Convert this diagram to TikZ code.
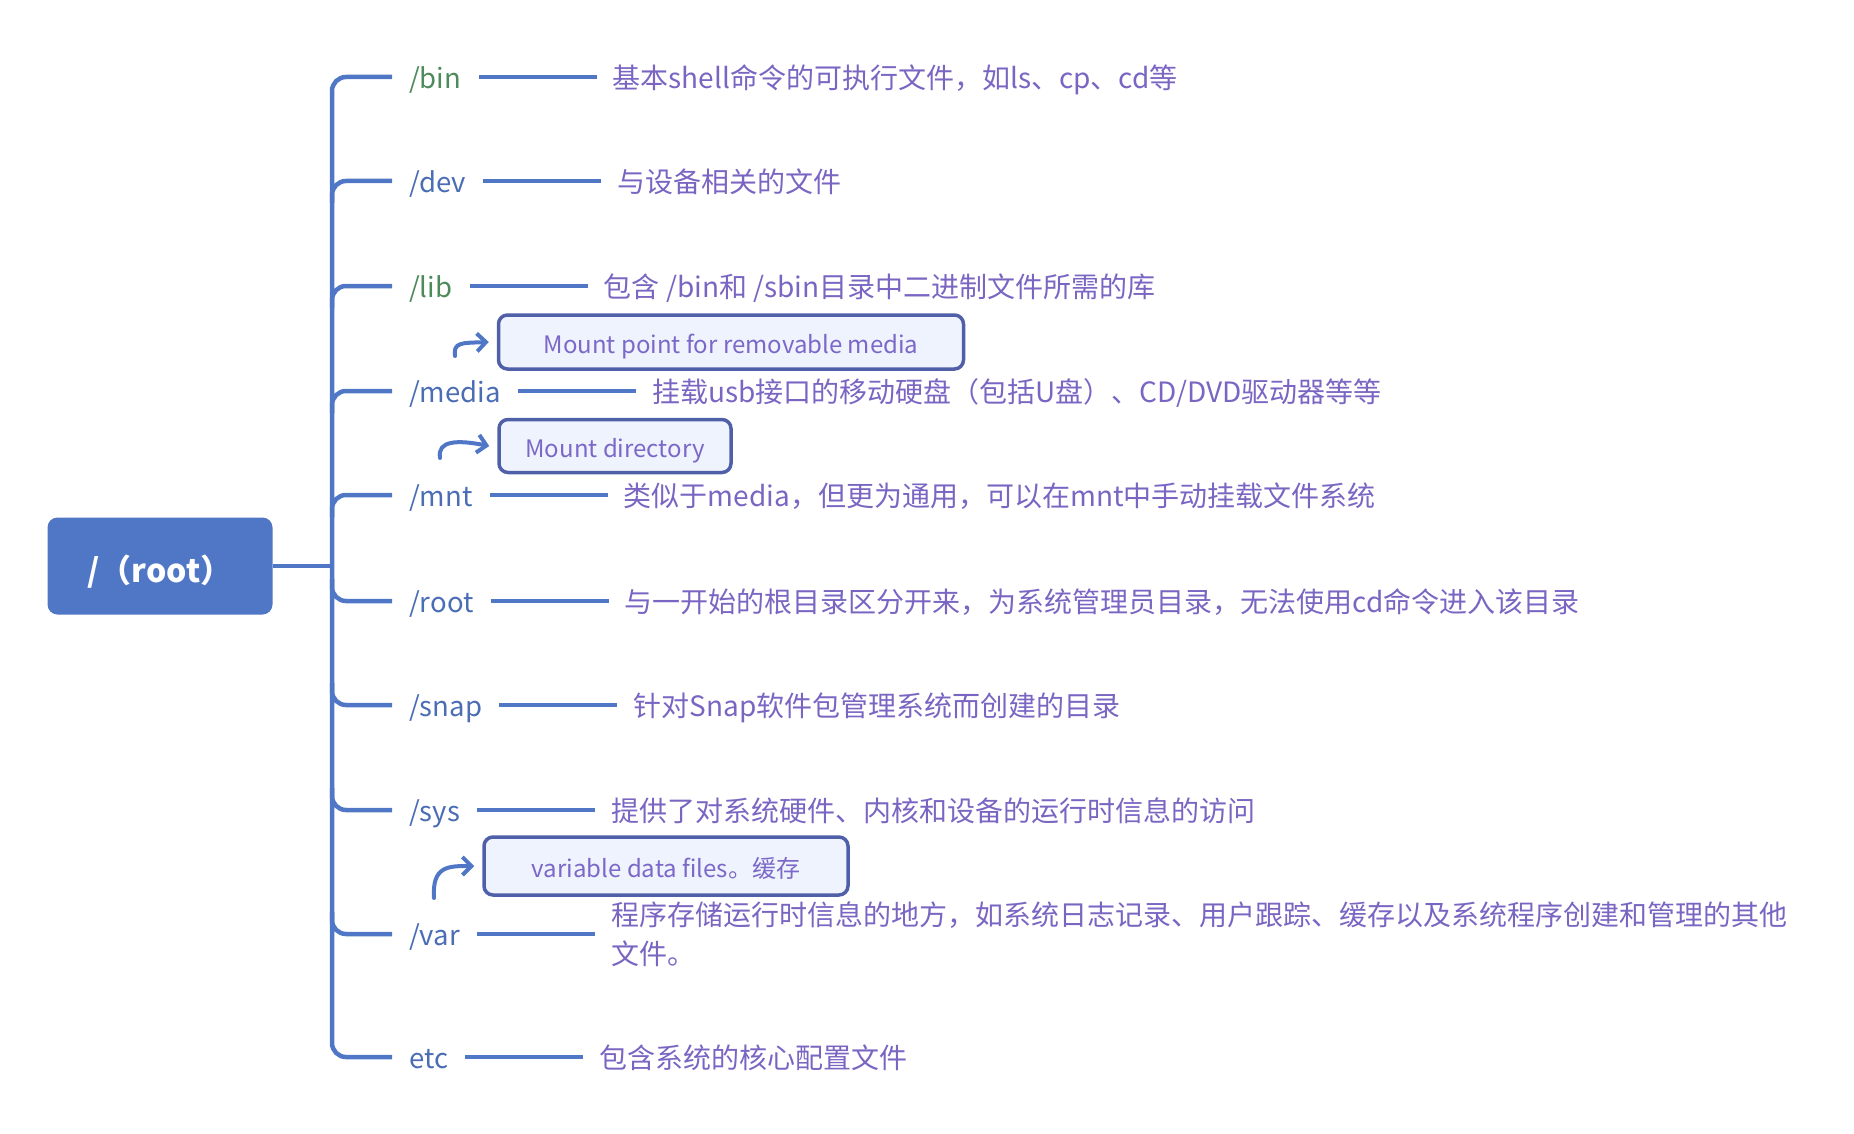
\documentclass[tikz,border=0pt]{standalone}
\usepackage{fontspec}
\setmainfont{Noto Sans CJK SC}
\usetikzlibrary{arrows.meta,positioning}
\definecolor{lineblue}{HTML}{5077C5}
\definecolor{labelblue}{HTML}{4A6DB5}
\definecolor{labelgreen}{HTML}{4E8A5C}
\definecolor{descpurple}{HTML}{7A66C2}
\definecolor{boxborder}{HTML}{5060A8}
\definecolor{boxfill}{HTML}{EEF3FD}
\definecolor{boxtext}{HTML}{7B68C8}
\begin{document}
\begin{tikzpicture}[x=1pt,y=-1pt,
  branch/.style={draw=lineblue,line width=4.5pt,rounded corners=14pt},
  conn/.style={draw=lineblue,line width=4.5pt},
  lbl/.style={anchor=west,inner xsep=17pt,inner ysep=4pt,text height=23pt,text depth=0pt,font=\fontsize{27.5}{34}\selectfont,text=labelblue},
  lblg/.style={lbl,text=labelgreen},
  desc/.style={inner xsep=16pt,inner ysep=2pt,font=\fontsize{28}{39}\selectfont,text=descpurple,align=left},
  desc1/.style={desc,text height=23pt,text depth=0pt},
  mbox/.style={draw=boxborder,fill=boxfill,line width=3.5pt,rounded corners=9pt,text=boxtext,font=\fontsize{24}{30}\selectfont,inner sep=0pt,text height=23pt,text depth=0pt},
  arr/.style={draw=lineblue,line width=4pt,line cap=round,-{Straight Barb[length=9pt,width=18pt,line width=4pt]}},
  rootbox/.style={fill=lineblue,rounded corners=10pt,text=white,font=\fontsize{32}{38}\selectfont\bfseries,minimum width=225pt,minimum height=97pt,text height=33pt,text depth=0pt}
]
\useasboundingbox (0,0) rectangle (1854,1134);

% root
\node[rootbox] (rt) at (160,566) {/（root）};
\coordinate (j) at (332,566);
\draw[conn] (rt.east) -- (j);

% labels
\node[lblg] (l1) at (392,77) {/bin};
\node[lbl] (l2) at (392,181) {/dev};
\node[lblg] (l3) at (392,286) {/lib};
\node[lbl] (l4) at (392,391) {/media};
\node[lbl] (l5) at (392,495) {/mnt};
\node[lbl] (l6) at (392,601) {/root};
\node[lbl] (l7) at (392,705) {/snap};
\node[lbl] (l8) at (392,810) {/sys};
\node[lbl] (l9) at (392,934) {/var};
\node[lbl] (l10) at (392,1057) {etc};

% descriptions
\node[desc1,right=118pt of l1] (d1) {基本shell命令的可执行文件，如ls、cp、cd等};
\node[desc1,right=118pt of l2] (d2) {与设备相关的文件};
\node[desc1,right=118pt of l3] (d3) {包含 /bin和 /sbin目录中二进制文件所需的库};
\node[desc1,right=118pt of l4] (d4) {挂载usb接口的移动硬盘（包括U盘）、CD/DVD驱动器等等};
\node[desc1,right=118pt of l5] (d5) {类似于media，但更为通用，可以在mnt中手动挂载文件系统};
\node[desc1,right=118pt of l6] (d6) {与一开始的根目录区分开来，为系统管理员目录，无法使用cd命令进入该目录};
\node[desc1,right=118pt of l7] (d7) {针对Snap软件包管理系统而创建的目录};
\node[desc1,right=118pt of l8] (d8) {提供了对系统硬件、内核和设备的运行时信息的访问};
\node[desc,right=118pt of l9] (d9) {程序存储运行时信息的地方，如系统日志记录、用户跟踪、缓存以及系统程序创建和管理的其他\\文件。};
\node[desc1,right=118pt of l10] (d10) {包含系统的核心配置文件};

\foreach \i in {1,...,10} {\draw[conn] (l\i.east) -- (d\i.west);}

% trunk with top and bottom branches
\draw[branch] (l1.west) -- (332,77) -- (332,1057) -- (l10.west);
% branches above the root
\foreach \i/\yy in {2/181,3/286,4/391,5/495} {\draw[branch] (332,\yy+22) -- (332,\yy) -- (l\i.west);}
% branches below the root
\foreach \i/\yy in {6/601,7/705,8/810,9/934} {\draw[branch] (332,\yy-22) -- (332,\yy) -- (l\i.west);}

% note boxes
\node[mbox,minimum width=465pt,minimum height=54pt] (b1) at (731,342) {Mount point for removable media};
\node[mbox,minimum width=232pt,minimum height=53pt] (b2) at (615,446) {Mount directory};
\node[mbox,minimum width=364pt,minimum height=58pt] (b3) at (666,866) {variable data files。缓存};

% arrows to boxes
\coordinate (t1) at (455,356);
\coordinate (t2) at (440,458);
\coordinate (t3) at (434,898);
\draw[arr] (t1) .. controls (453,342) and (462,343) .. ([xshift=-8pt]b1.west);
\draw[arr] (t2) .. controls (437,440) and (458,440) .. ([xshift=-8pt]b2.west);
\draw[arr] (t3) .. controls (432,866) and (448,866) .. ([xshift=-8pt]b3.west);
\end{tikzpicture}
\end{document}
